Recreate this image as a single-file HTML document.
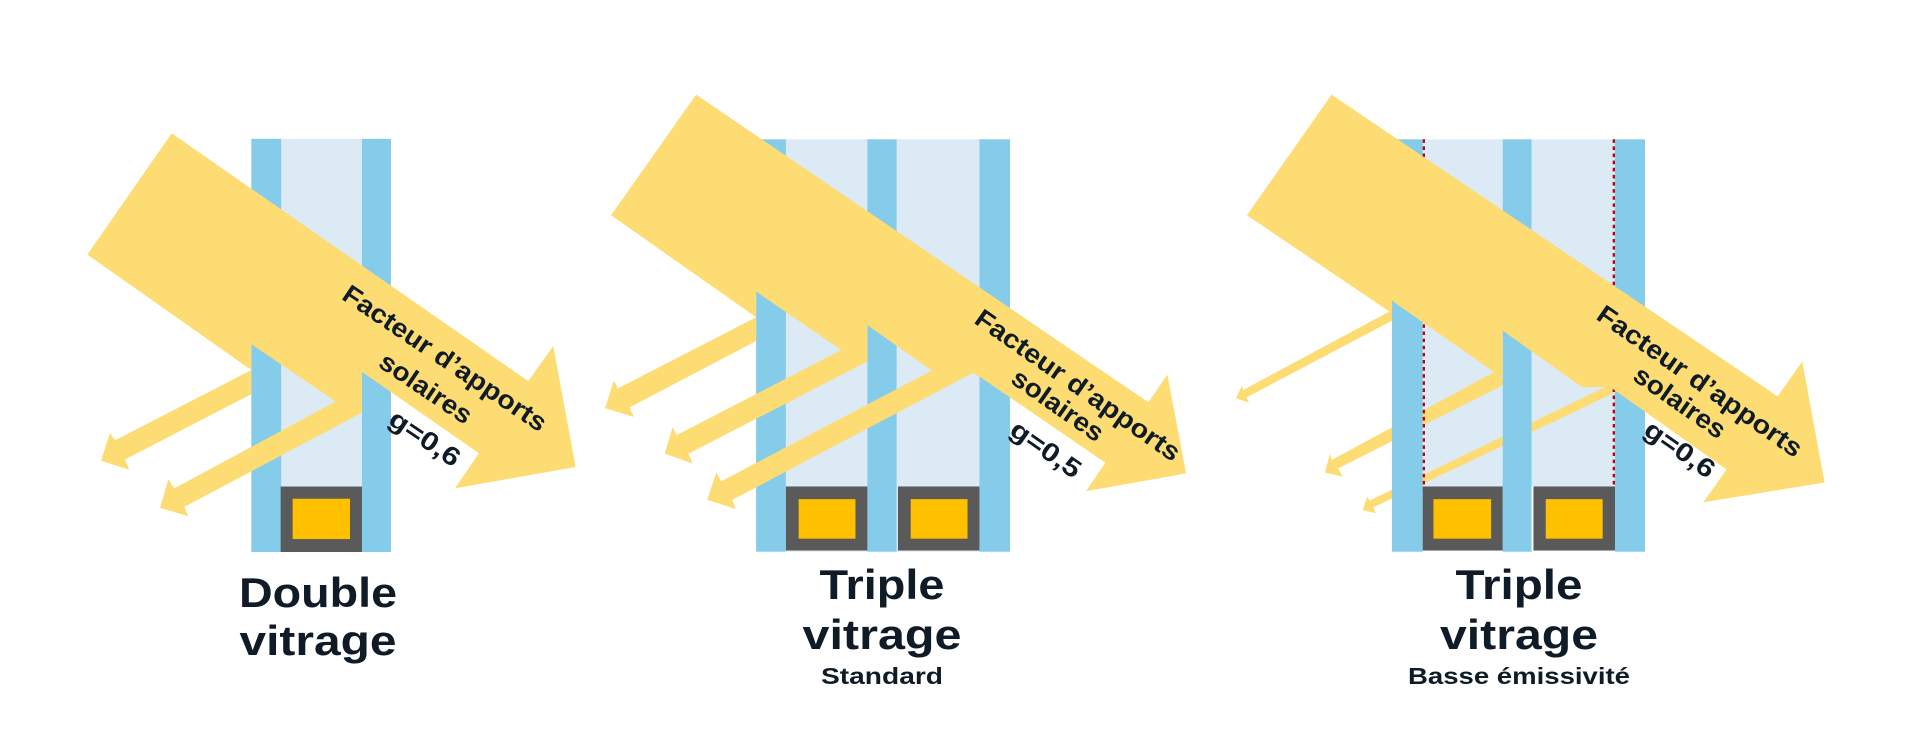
<!DOCTYPE html>
<html><head><meta charset="utf-8"><style>html,body{margin:0;padding:0;background:#fff}svg{display:block}</style></head>
<body>
<svg width="1920" height="741" viewBox="0 0 1920 741" xmlns="http://www.w3.org/2000/svg">
<rect width="1920" height="741" fill="#fff"/>
<!-- Diagram 1 -->
<g transform="translate(80,100) scale(0.3333,0.3699)">
 <rect x="514" y="105" width="90" height="1117" fill="#85CBEA"/>
 <rect x="604" y="105" width="242" height="1117" fill="#DCEAF6"/>
 <rect x="846" y="105" width="87" height="1117" fill="#85CBEA"/>
 <rect x="602" y="1045" width="244" height="177" fill="#5A5A5A"/>
 <rect x="638" y="1078" width="172" height="109" fill="#FFC000"/>
 <polygon fill="#FDDC74" points="275,90 1345,760 1420,665 1487,992 1125,1050 1197,955 846,735 846,800 767,815 514,660 514,730 22,418"/>
 <polygon fill="#FDDC74" points="514,730 105,920 90,900 63,975 148,1000 135,972 514,795"/>
 <polygon fill="#FDDC74" points="767,815 283,1050 265,1025 240,1103 325,1125 313,1100 846,845 846,790"/>
</g>
<!-- Diagram 2 -->
<g transform="translate(590,80) scale(0.3974,0.3954)">
 <rect x="418" y="150" width="75" height="1043" fill="#85CBEA"/>
 <rect x="493" y="150" width="205" height="1043" fill="#DCEAF6"/>
 <rect x="698" y="150" width="74" height="1043" fill="#85CBEA"/>
 <rect x="772" y="150" width="208" height="1043" fill="#DCEAF6"/>
 <rect x="980" y="150" width="77" height="1043" fill="#85CBEA"/>
 <rect x="493" y="1028" width="205" height="162" fill="#5A5A5A"/>
 <rect x="525" y="1060" width="143" height="100" fill="#FFC000"/>
 <rect x="775" y="1028" width="205" height="162" fill="#5A5A5A"/>
 <rect x="807" y="1060" width="143" height="100" fill="#FFC000"/>
 <polygon fill="#FDDC74" points="267,37 1405,815 1453,745 1500,995 1248,1040 1297,968 980,750 965,742 860,735 698,620 698,705 632,683 418,535 418,600 53,342"/>
 <polygon fill="#FDDC74" points="418,600 70,780 60,760 38,830 110,852 100,828 418,660"/>
 <polygon fill="#FDDC74" points="632,683 218,898 208,878 188,945 258,970 248,945 698,712 698,690"/>
 <polygon fill="#FDDC74" points="860,735 330,1015 318,992 295,1062 367,1085 358,1062 965,740"/>
</g>
<!-- Diagram 3: gaps first -->
<g transform="translate(1240,80) scale(0.3846,0.3954)">
 <rect x="475" y="150" width="208" height="878" fill="#DCEAF6"/>
 <rect x="758" y="150" width="217" height="878" fill="#DCEAF6"/>
</g>
<!-- Diagram 3 reflections (behind panes, over gaps) -->
<g transform="translate(1230,280) scale(0.3333)">
 <polygon fill="#FDDC74" points="490,88 40,330 35,318 18,355 57,368 50,352 490,120"/>
 <polygon fill="#FDDC74" points="800,272 305,540 300,520 285,578 338,590 325,565 830,310"/>
 <polygon fill="#FDDC74" points="1145,312 418,662 412,650 398,690 437,700 430,682 1150,340"/>
</g>
<g transform="translate(1240,80) scale(0.3846,0.3954)">
 <rect x="395" y="150" width="80" height="1043" fill="#85CBEA"/>
 <rect x="683" y="150" width="75" height="1043" fill="#85CBEA"/>
 <rect x="975" y="150" width="78" height="1043" fill="#85CBEA"/>
 <line x1="478" y1="150" x2="478" y2="1035" stroke="#C00000" stroke-width="6" stroke-dasharray="9,9"/>
 <line x1="972" y1="150" x2="972" y2="1035" stroke="#C00000" stroke-width="6" stroke-dasharray="9,9"/>
 <rect x="475" y="1028" width="208" height="162" fill="#5A5A5A"/>
 <rect x="503" y="1060" width="150" height="100" fill="#FFC000"/>
 <rect x="763" y="1028" width="212" height="162" fill="#5A5A5A"/>
 <rect x="795" y="1060" width="148" height="100" fill="#FFC000"/>
 <polygon fill="#FDDC74" points="238,37 1398,800 1462,712 1520,1018 1205,1068 1265,985 962,776 890,777 683,634 683,750 665,742 395,558 395,590 18,342"/>
</g>
<!-- Arrow labels -->
<g font-family="'Liberation Sans', sans-serif" font-weight="bold" fill="#0F1B26" text-anchor="middle">
 <g transform="translate(445,358) rotate(34)">
  <text x="0" y="9" font-size="26" textLength="240" lengthAdjust="spacingAndGlyphs">Facteur d’apports</text>
 </g>
 <g transform="translate(426,388) rotate(34)">
  <text x="0" y="9" font-size="26" textLength="106" lengthAdjust="spacingAndGlyphs">solaires</text>
 </g>
 <g transform="translate(425,438) rotate(34)">
  <text x="0" y="9" font-size="26" textLength="80" lengthAdjust="spacingAndGlyphs">g=0,6</text>
 </g>
 <g transform="translate(1078,385) rotate(35)">
  <text x="0" y="9" font-size="26" textLength="244" lengthAdjust="spacingAndGlyphs">Facteur d’apports</text>
 </g>
 <g transform="translate(1058,405) rotate(35)">
  <text x="0" y="9" font-size="26" textLength="106" lengthAdjust="spacingAndGlyphs">solaires</text>
 </g>
 <g transform="translate(1046,449) rotate(35)">
  <text x="0" y="9" font-size="26" textLength="80" lengthAdjust="spacingAndGlyphs">g=0,5</text>
 </g>
 <g transform="translate(1700,381) rotate(35)">
  <text x="0" y="9" font-size="26" textLength="244" lengthAdjust="spacingAndGlyphs">Facteur d’apports</text>
 </g>
 <g transform="translate(1680,402) rotate(35)">
  <text x="0" y="9" font-size="26" textLength="106" lengthAdjust="spacingAndGlyphs">solaires</text>
 </g>
 <g transform="translate(1680,449) rotate(35)">
  <text x="0" y="9" font-size="26" textLength="80" lengthAdjust="spacingAndGlyphs">g=0,6</text>
 </g>
</g>
<!-- Titles -->
<g font-family="'Liberation Sans', sans-serif" font-weight="bold" fill="#0F1B26" text-anchor="middle">
 <text x="318" y="607" font-size="42" textLength="158" lengthAdjust="spacingAndGlyphs">Double</text>
 <text x="318" y="655" font-size="42" textLength="157" lengthAdjust="spacingAndGlyphs">vitrage</text>
 <text x="882" y="599" font-size="42" textLength="125" lengthAdjust="spacingAndGlyphs">Triple</text>
 <text x="882" y="649" font-size="42" textLength="159" lengthAdjust="spacingAndGlyphs">vitrage</text>
 <text x="882" y="684" font-size="23" textLength="122" lengthAdjust="spacingAndGlyphs">Standard</text>
 <text x="1519" y="599" font-size="42" textLength="127" lengthAdjust="spacingAndGlyphs">Triple</text>
 <text x="1519" y="649" font-size="42" textLength="158" lengthAdjust="spacingAndGlyphs">vitrage</text>
 <text x="1519" y="684" font-size="23" textLength="222" lengthAdjust="spacingAndGlyphs">Basse émissivité</text>
</g>
</svg>
</body></html>
